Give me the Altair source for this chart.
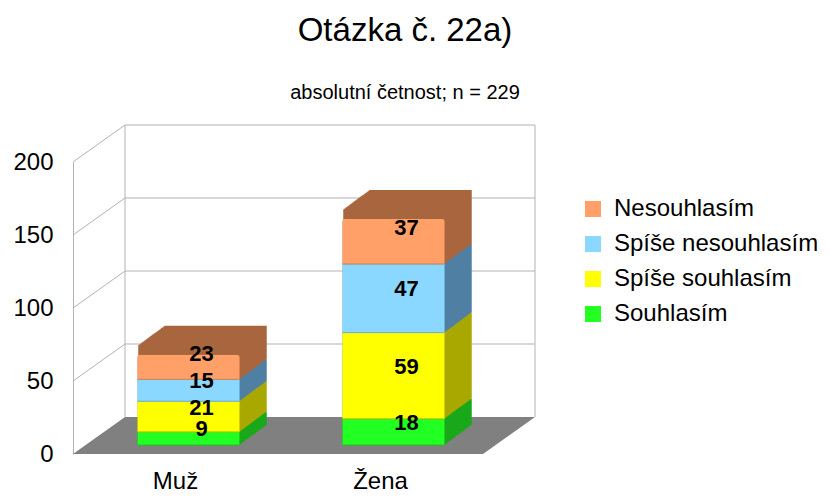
import altair as alt
import pandas as pd

# ---- data ----
categories = ["Muž", "Žena"]
responses = ["Souhlasím", "Spíše souhlasím", "Spíše nesouhlasím", "Nesouhlasím"]
muz_values = [9, 21, 15, 23]
zena_values = [18, 59, 47, 37]
y_ticks = [0, 50, 100, 150, 200]
title_text = "Otázka č. 22a)"
subtitle_text = "absolutní četnost; n = 229"

# ---- styles ----
front_colors = ["#22ff22", "#ffff00", "#8ad8ff", "#ffa068"]
side_colors = ["#1aa81a", "#a9a900", "#4f80a3", "#a8663f"]
edge_colors = ["#19c919", "#cccc00", "#6eb0d8", "#d88050"]
FONT = "Liberation Sans"
W, H = 410, 292
WALL_DX, WALL_DY = 52, -37
BAR_X, BAR_Y = 13, -9
BAR_DX, BAR_DY = 27, -20
N_STEPS = 27
GRID = "#b3b3b3"

rows = []
for cat, vals in zip(categories, [muz_values, zena_values]):
    for i, (resp, v) in enumerate(zip(responses, vals)):
        rows.append({"cat": cat, "resp": resp, "value": v, "order": i,
                     "side": side_colors[i], "edge": edge_colors[i]})
df = pd.DataFrame(rows)

xscale = alt.Scale(domain=categories, paddingInner=0.5, paddingOuter=0.25)
yscale = alt.Scale(domain=[0, 200], nice=False, zero=True)
xaxis = alt.Axis(title=None, domain=False, ticks=False, labelAngle=0,
                 labelFontSize=24, labelPadding=15, labelColor="black",
                 labelFont=FONT, grid=False)
yaxis = alt.Axis(title=None, values=y_ticks, grid=False, ticks=False,
                 domain=True, domainColor=GRID, labelFontSize=24,
                 labelPadding=20, labelColor="black", labelFont=FONT)

# ---- frame (walls, floor) ----
ticks_df = pd.DataFrame({"t": y_ticks[1:]})
back_lines = alt.Chart(ticks_df).mark_rule(color=GRID, yOffset=WALL_DY).encode(
    y=alt.Y("t:Q", scale=yscale, axis=yaxis),
    x=alt.value(WALL_DX), x2=alt.value(W + WALL_DX))
left_diag = alt.Chart(ticks_df).mark_rule(color=GRID, y2Offset=WALL_DY).encode(
    y=alt.Y("t:Q", scale=yscale, axis=yaxis), y2=alt.Y2("t:Q"),
    x=alt.value(0), x2=alt.value(WALL_DX))
top_df = pd.DataFrame({"t": [y_ticks[-1]], "b": [y_ticks[0]]})
back_left = alt.Chart(top_df).mark_rule(color=GRID, yOffset=WALL_DY, y2Offset=WALL_DY).encode(
    y=alt.Y("t:Q", scale=yscale, axis=yaxis), y2=alt.Y2("b:Q"), x=alt.value(WALL_DX))
back_right = alt.Chart(top_df).mark_rule(color=GRID, yOffset=WALL_DY, y2Offset=WALL_DY).encode(
    y=alt.Y("t:Q", scale=yscale, axis=yaxis), y2=alt.Y2("b:Q"), x=alt.value(W + WALL_DX))

floor_df = pd.DataFrame({
    "px": [0, WALL_DX, W, W + WALL_DX],
    "top": [H, H + WALL_DY, H + WALL_DY, H + WALL_DY],
    "bot": [H, H, H, H + WALL_DY],
})
floor = alt.Chart(floor_df).mark_area(color="#808080").encode(
    x=alt.X("px:Q", scale=None, axis=None),
    y=alt.Y("top:Q", scale=None, axis=None),
    y2=alt.Y2("bot:Q"))

# ---- extruded bars ----
base = alt.Chart(df)
depth_layers = []
for k in range(N_STEPS, 0, -1):
    ox = BAR_X + BAR_DX * k / N_STEPS
    oy = BAR_Y + BAR_DY * k / N_STEPS
    depth_layers.append(
        base.mark_bar(xOffset=ox, x2Offset=ox, yOffset=oy, y2Offset=oy).encode(
            x=alt.X("cat:N", scale=xscale, sort=categories, axis=xaxis),
            y=alt.Y("value:Q", stack="zero", scale=yscale, axis=yaxis),
            order=alt.Order("order:Q", sort="ascending"),
            color=alt.Color("side:N", scale=None)))

front = base.mark_bar(xOffset=BAR_X, x2Offset=BAR_X, yOffset=BAR_Y, y2Offset=BAR_Y,
                      cornerRadius=3, strokeWidth=1).encode(
    x=alt.X("cat:N", scale=xscale, sort=categories, axis=xaxis),
    y=alt.Y("value:Q", stack="zero", scale=yscale, axis=yaxis),
    order=alt.Order("order:Q", sort="ascending"),
    stroke=alt.Stroke("edge:N", scale=None),
    color=alt.Color("resp:N",
                    scale=alt.Scale(domain=responses[::-1], range=front_colors[::-1]),
                    legend=alt.Legend(title=None, orient="none", legendX=508, legendY=35,
                                      symbolType="square", symbolSize=256,
                                      symbolStrokeWidth=0, labelFontSize=24,
                                      labelFont=FONT, labelColor="black",
                                      labelOffset=9, rowPadding=11, padding=0,
                                      labelLimit=400)),
)

labels = base.transform_stack(
    stack="value", groupby=["cat"], as_=["v0", "v1"],
    sort=[alt.SortField("order", order="ascending")]
).transform_calculate(mid="(datum.v0 + datum.v1) / 2").mark_text(
    dx=26, dy=-18, fontSize=22, fontWeight="bold", font=FONT, color="black"
).encode(
    x=alt.X("cat:N", scale=xscale, sort=categories, axis=xaxis),
    y=alt.Y("mid:Q", scale=yscale, axis=yaxis),
    text=alt.Text("value:Q"),
)

chart = alt.layer(
    floor, back_lines, left_diag, back_left, back_right, *depth_layers, front, labels
).properties(
    width=W, height=H,
    autosize=alt.AutoSizeParams(type="none"),
    padding={"left": 65, "top": 154, "right": 338, "bottom": 40},
    title=alt.TitleParams(text=title_text, subtitle=subtitle_text, fontSize=33,
                          subtitleFontSize=20, font=FONT, subtitleFont=FONT,
                          fontWeight="normal", color="black", subtitleColor="black",
                          anchor="middle", frame="group", dx=127, offset=22,
                          subtitlePadding=35),
).configure(font=FONT).configure_view(stroke=None)

chart.save("out.html", embed_options={"renderer": "svg", "actions": False})
